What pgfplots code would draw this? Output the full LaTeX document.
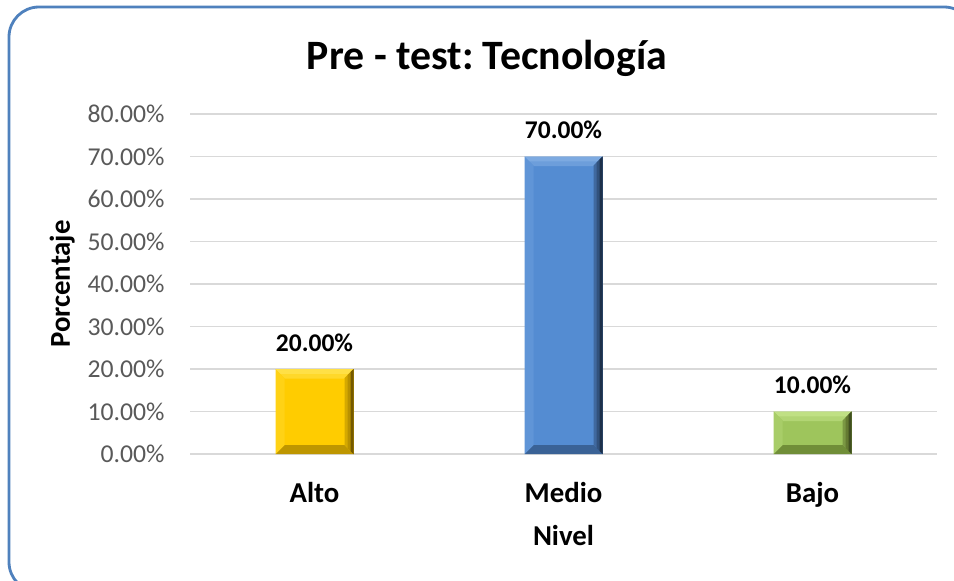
\documentclass[border=0pt]{standalone}
\usepackage{fontspec}
\setmainfont{Carlito}
\usepackage{pgfplots}
\pgfplotsset{compat=1.18}
\frenchspacing
\definecolor{frameblue}{RGB}{79,129,189}
\definecolor{gridgray}{RGB}{217,217,217}
\definecolor{tickgray}{RGB}{89,89,89}
\definecolor{yelM}{RGB}{255,204,0}
\definecolor{yelL}{RGB}{255,224,70}
\definecolor{yelD}{RGB}{185,145,0}
\definecolor{yelDD}{RGB}{70,52,0}
\definecolor{yelB}{RGB}{190,150,0}
\definecolor{bluM}{RGB}{84,140,210}
\definecolor{bluL}{RGB}{125,170,225}
\definecolor{bluD}{RGB}{50,82,125}
\definecolor{bluDD}{RGB}{15,25,40}
\definecolor{bluB}{RGB}{58,98,150}
\definecolor{grnM}{RGB}{158,197,92}
\definecolor{grnL}{RGB}{192,224,132}
\definecolor{grnD}{RGB}{100,122,50}
\definecolor{grnDD}{RGB}{40,50,20}
\definecolor{grnB}{RGB}{112,142,56}
\def\pbb#1{\pgfpointanchor{path picture bounding box}{#1}}
\def\pbs#1#2#3{\pgfpointadd{\pbb{#1}}{\pgfpoint{#2}{#3}}}
\newcommand\bevright[2]{% width, color
  \pgfsetfillcolor{#2}%
  \pgfpathmoveto{\pbb{north east}}\pgfpathlineto{\pbb{south east}}%
  \pgfpathlineto{\pbs{south east}{-#1}{#1}}\pgfpathlineto{\pbs{north east}{-#1}{-#1}}%
  \pgfpathclose\pgfusepath{fill}}
\newcommand\bevtop[2]{% width, color
  \pgfsetfillcolor{#2}%
  \pgfpathmoveto{\pbb{north west}}\pgfpathlineto{\pbb{north east}}%
  \pgfpathlineto{\pbs{north east}{-#1}{-#1}}\pgfpathlineto{\pbs{north west}{#1}{-#1}}%
  \pgfpathclose\pgfusepath{fill}}
\newcommand\bev[5]{% main light dark darkest bottom
  \bevtop{4.8pt}{#2!60!#1}%
  \bevtop{2.4pt}{#2}%
  \pgfsetfillcolor{#5}%
  \pgfpathmoveto{\pbb{south west}}\pgfpathlineto{\pbb{south east}}%
  \pgfpathlineto{\pbs{south east}{-4.5pt}{4.5pt}}\pgfpathlineto{\pbs{south west}{4.5pt}{4.5pt}}%
  \pgfpathclose\pgfusepath{fill}%
  \pgfsetfillcolor{#2!30!#1}%
  \pgfpathmoveto{\pbb{north west}}\pgfpathlineto{\pbb{south west}}%
  \pgfpathlineto{\pbs{south west}{4.5pt}{4.5pt}}\pgfpathlineto{\pbs{north west}{4.5pt}{-4.5pt}}%
  \pgfpathclose\pgfusepath{fill}%
  \bevright{4.5pt}{#3!60!#1}%
  \bevright{3pt}{#3}%
  \bevright{1.5pt}{#3!40!#4}%
}
\tikzset{
  bevel/.style n args={5}{fill=#1, draw=none, path picture={\bev{#1}{#2}{#3}{#4}{#5}}}
}
\begin{document}
\begin{tikzpicture}
\useasboundingbox (0,0) rectangle (477pt,290pt);
\clip (0,0) rectangle (477pt,290pt);
\fill[white] (0,0) rectangle (477pt,290pt);
\draw[frameblue, line width=1.4pt, rounded corners=15pt] (4.5pt,-6pt) rectangle (487pt,286.5pt);
\node[font=\fontsize{20.9}{24}\selectfont\bfseries, anchor=center] at (243.5pt,261pt) {Pre - test: Tecnología};
\begin{axis}[
  at={(95pt,63pt)}, anchor=south west,
  scale only axis, width=373.5pt, height=170pt,
  xmin=-0.5, xmax=2.5, ymin=0, ymax=80,
  ybar, bar width=39pt,
  axis line style={draw=none},
  major tick length=0pt,
  ytick={0,10,...,80},
  xtick={0,1,2},
  xticklabels={Alto,Medio,Bajo},
  ymajorgrids, grid style={gridgray, line width=0.75pt},
  /pgf/number format/assume math mode=true,
  yticklabel={\pgfmathprintnumber[fixed,fixed zerofill,precision=2]{\tick}\%},
  yticklabel style={font=\fontsize{12.85}{15}\selectfont, text=tickgray, anchor=east, inner sep=0pt, xshift=-12.5pt},
  xticklabel style={font=\fontsize{14.4}{17}\selectfont\bfseries, anchor=base, inner sep=0pt, yshift=-24pt},
  xlabel={Nivel}, ylabel={Porcentaje},
  xlabel style={font=\fontsize{14.4}{17}\selectfont\bfseries, at={(axis description cs:0.5,0)}, anchor=base, inner sep=0pt, yshift=-45.5pt},
  ylabel style={font=\fontsize{14.4}{17}\selectfont\bfseries, at={(axis description cs:-0.171,0.5)}, anchor=center, inner sep=0pt},
  nodes near coords={\pgfmathprintnumber[fixed,fixed zerofill,precision=2]{\pgfplotspointmeta}\%},
  nodes near coords style={font=\fontsize{12.75}{15}\selectfont\bfseries, text=black, anchor=base, inner sep=0pt, yshift=9pt},
  clip=false,
]
\addplot[bevel={yelM}{yelL}{yelD}{yelDD}{yelB}, bar shift=0pt] coordinates {(0,20)};
\addplot[bevel={bluM}{bluL}{bluD}{bluDD}{bluB}, bar shift=0pt] coordinates {(1,70)};
\addplot[bevel={grnM}{grnL}{grnD}{grnDD}{grnB}, bar shift=0pt] coordinates {(2,10)};
\end{axis}
\end{tikzpicture}
\end{document}
